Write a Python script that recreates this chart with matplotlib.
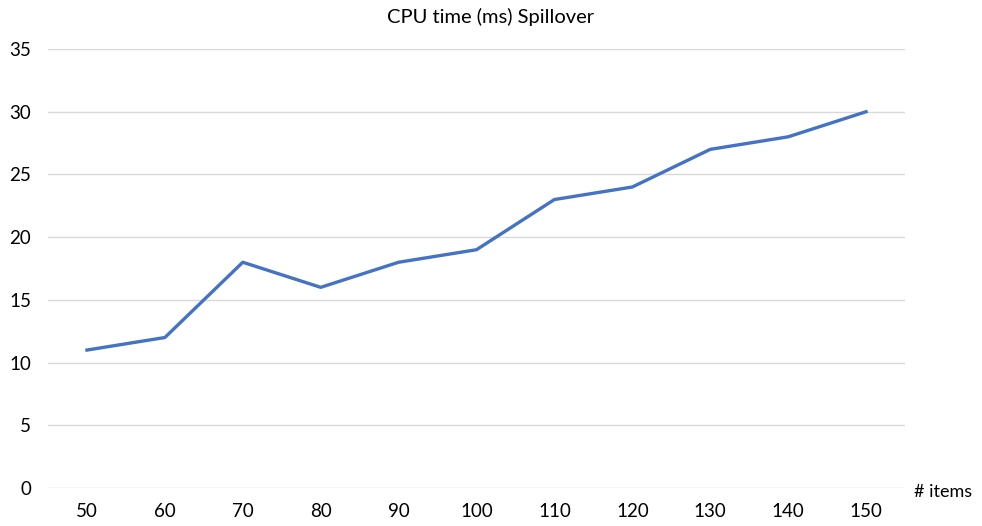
import numpy as np
import matplotlib.pyplot as plt

plt.rcParams['font.family'] = ['Lato', 'DejaVu Sans']

items = [50, 60, 70, 80, 90, 100, 110, 120, 130, 140, 150]
cpu_ms = [11, 12, 18, 16, 18, 19, 23, 24, 27, 28, 30]

fig = plt.figure(figsize=(9.82, 5.26), dpi=100)
ax = fig.add_axes([0.0489, 0.0722, 0.8727, 0.8346])

x = np.arange(len(items))
ax.plot(x, cpu_ms, color='#4472C4', linewidth=2.4, solid_joinstyle='round')

ax.set_xlim(-0.5, len(items) - 0.5)
ax.set_ylim(0, 35)
ax.set_yticks(range(0, 36, 5))
ax.set_xticks(x)
ax.set_xticklabels([str(v) for v in items])
ax.grid(axis='y', color='#D9D9D9', linewidth=1)
ax.set_axisbelow(True)
for s in ax.spines.values():
    s.set_visible(False)
ax.tick_params(length=0, labelsize=13.5, colors='#000000')
ax.tick_params(axis='y', pad=12)
ax.tick_params(axis='x', pad=11)

# title is centred on the whole figure, not the plot area
fig.text(0.5, 0.967, 'CPU time (ms) Spillover', fontsize=14.5, ha='center', va='center')
fig.text(0.960, 0.0646, '# items', fontsize=13, ha='center', va='center')

fig.savefig('out.png', dpi=100)
